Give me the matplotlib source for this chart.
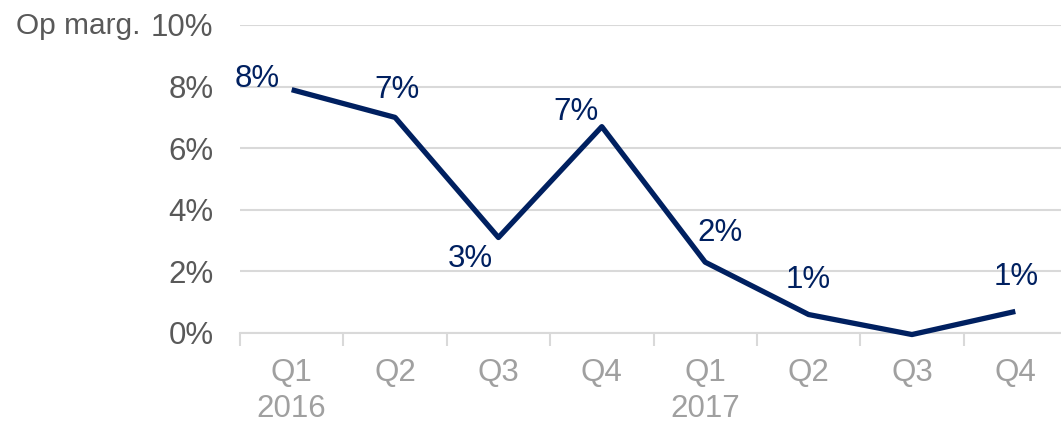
import matplotlib
matplotlib.use("Agg")
import matplotlib.pyplot as plt
from matplotlib.ticker import FixedLocator

plt.rcParams['font.family'] = ['Liberation Sans', 'DejaVu Sans']

# ---- data ----
quarters = ["Q1", "Q2", "Q3", "Q4", "Q1", "Q2", "Q3", "Q4"]
years = ["2016", "", "", "", "2017", "", "", ""]
op_margin = [7.9, 7.0, 3.1, 6.7, 2.3, 0.6, -0.05, 0.7]
show_label = [True, True, True, True, True, True, False, True]
y_ticks = [0, 2, 4, 6, 8, 10]

# ---- style ----
navy = "#002060"
grid_c = "#d9d9d9"
ylab_c = "#595959"
xlab_c = "#a0a0a0"
fs = 22.5
# label offsets in pixels (dx, dy)
label_offsets = [(-34, 11), (2, 27), (-28, -21), (-26, 15), (15, 29), (0, 35), (0, 0), (1, 34)]

W, H = 1061, 422
fig = plt.figure(figsize=(W / 100, H / 100), dpi=100)
ax = fig.add_axes([240 / W, 1 - 333 / H, 827 / W, 308 / H])

x = list(range(len(op_margin)))
ax.plot(x, op_margin, color=navy, lw=3.8, solid_joinstyle='round', solid_capstyle='butt', clip_on=False, zorder=3)

for xi, v, show, (dx, dy) in zip(x, op_margin, show_label, label_offsets):
    if show:
        ax.annotate(f"{round(v):.0f}%", xy=(xi, v), xytext=(dx, dy), textcoords='offset pixels',
                    ha='center', va='center', color=navy, fontsize=fs)

ax.set_xlim(-0.5, len(op_margin) - 0.5)
ax.set_ylim(0, 10)
ax.set_yticks(y_ticks)
ax.set_yticklabels([f"{t}%" for t in y_ticks])
ax.tick_params(axis='y', length=0, pad=19, labelsize=fs, labelcolor=ylab_c)
ax.grid(axis='y', color=grid_c, lw=1.5, zorder=0)
ax.set_xticks(x)
ax.set_xticklabels([q + ("\n" + y if y else "") for q, y in zip(quarters, years)])
for lbl in ax.get_xticklabels():
    lbl.set_verticalalignment('top')
    lbl.set_linespacing(1.27)
ax.tick_params(axis='x', length=0, pad=18, labelsize=fs, labelcolor=xlab_c)
ax.xaxis.set_minor_locator(FixedLocator([i - 0.5 for i in x]))
ax.tick_params(axis='x', which='minor', length=9, width=1.5, color=grid_c)

for s in ['top', 'right', 'left']:
    ax.spines[s].set_visible(False)
ax.spines['bottom'].set_color(grid_c)
ax.spines['bottom'].set_linewidth(1.5)

fig.text(16 / W, 1 - 26 / H, "Op marg.", ha='left', va='center', fontsize=21.5, color=ylab_c)

fig.savefig("out.png", dpi=100)
